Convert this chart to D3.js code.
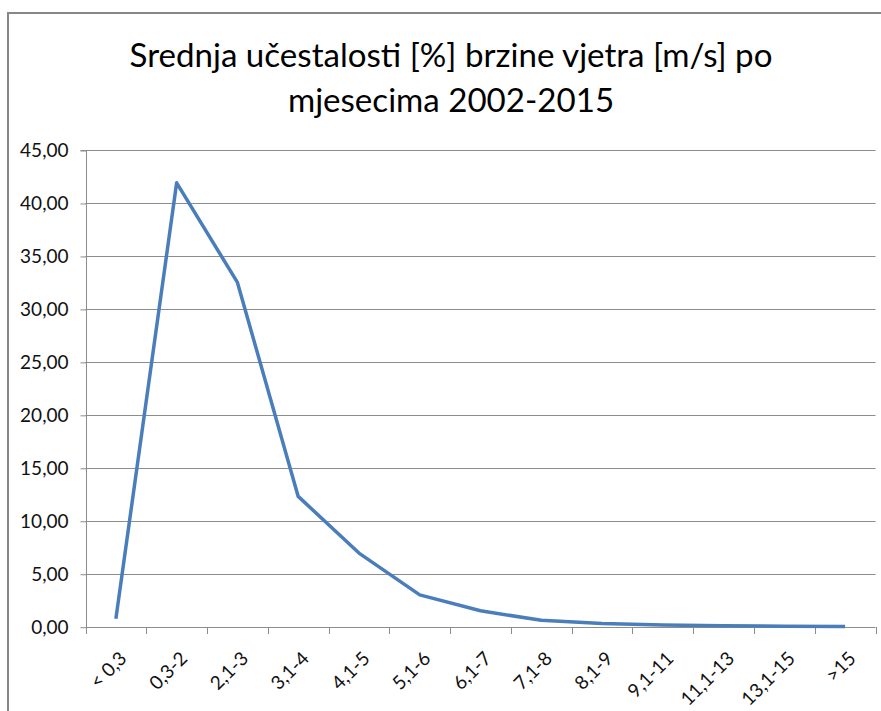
<!DOCTYPE html>
<html><head><meta charset="utf-8">
<script src="https://cdn.jsdelivr.net/npm/d3@7"></script>
<style>body{margin:0;background:#fff}svg{display:block}</style>
</head><body>
<script>
const categories = ["< 0,3","0,3-2","2,1-3","3,1-4","4,1-5","5,1-6","6,1-7","7,1-8","8,1-9","9,1-11","11,1-13","13,1-15",">15"];
const values = [0.75, 41.9, 32.5, 12.3, 6.95, 3.0, 1.5, 0.6, 0.3, 0.15, 0.1, 0.05, 0.03];
const yTicks = [0,5,10,15,20,25,30,35,40,45];
const titleLines = ["Srednja učestalosti [%] brzine vjetra [m/s] po","mjesecima 2002-2015"];

const W = 881, H = 711;
const font = "Lato, 'Open Sans', 'Liberation Sans', sans-serif";
const svg = d3.select("body").append("svg").attr("width", W).attr("height", H);
svg.append("rect").attr("width", W).attr("height", H).attr("fill", "#fff");
svg.append("rect").attr("x", 8).attr("y", 13).attr("width", 1000).attr("height", 1000)
  .attr("fill", "none").attr("stroke", "#878787").attr("stroke-width", 2);

const plot = {l: 85.5, r: 875.5, t: 150, b: 626.7};
const x = d3.scaleBand().domain(categories).range([plot.l, plot.r]).padding(0);
const y = d3.scaleLinear().domain([0, 45]).range([plot.b, plot.t]);

// gridlines
svg.append("g").selectAll("line").data(yTicks.filter(d => d > 0)).join("line")
  .attr("x1", plot.l).attr("x2", plot.r)
  .attr("y1", d => Math.round(y(d)) + 0.5).attr("y2", d => Math.round(y(d)) + 0.5)
  .attr("stroke", "#8c8c8c").attr("stroke-width", 1);

// y axis
const yAxis = d3.axisLeft(y).tickValues(yTicks).tickSize(6).tickPadding(12)
  .tickFormat(d => d3.format(".2f")(d).replace(".", ","));
const gy = svg.append("g").attr("transform", `translate(${Math.round(plot.l)+0.5},0.5)`).call(yAxis);
gy.select(".domain").attr("stroke", "#8c8c8c").attr("d", `M-6,${y(45)}H0V${y(0)}`);
gy.selectAll(".tick line").attr("stroke", "#8c8c8c");
gy.selectAll("text").attr("font-family", font).attr("font-size", 19).attr("fill", "#111");

// x axis
const boundaries = categories.map(c => x(c)).concat([plot.r]);
const gx = svg.append("g");
gx.append("line").attr("x1", plot.l).attr("x2", plot.r)
  .attr("y1", Math.round(plot.b) + 0.5).attr("y2", Math.round(plot.b) + 0.5)
  .attr("stroke", "#8c8c8c");
gx.selectAll("line.tk").data(boundaries).join("line").attr("class", "tk")
  .attr("x1", d => Math.round(d) + 0.5).attr("x2", d => Math.round(d) + 0.5)
  .attr("y1", Math.round(plot.b)).attr("y2", Math.round(plot.b) + 7)
  .attr("stroke", "#8c8c8c");
gx.selectAll("text").data(categories).join("text")
  .attr("transform", d => `translate(${x(d) + x.bandwidth()/2 + 12},${plot.b + 33}) rotate(-45)`)
  .attr("text-anchor", "end")
  .attr("font-family", font).attr("font-size", 19).attr("fill", "#111")
  .text(d => d);

// line
const line = d3.line().x((d, i) => x(categories[i]) + x.bandwidth()/2).y(d => y(d));
svg.append("path").datum(values).attr("d", line)
  .attr("fill", "none").attr("stroke", "#4a7ebb").attr("stroke-width", 3.5)
  .attr("stroke-linejoin", "round");

// title
const tl = svg.append("g").selectAll("text").data(titleLines).join("text")
  .attr("x", 451).attr("y", (d, i) => [67, 112][i])
  .attr("text-anchor", "middle").attr("font-family", font).attr("font-size", 30)
  .attr("fill", "#000").text(d => d);
const w0 = tl.node().getComputedTextLength();
tl.attr("font-size", 30 * 643 / w0);
</script>
</body></html>
